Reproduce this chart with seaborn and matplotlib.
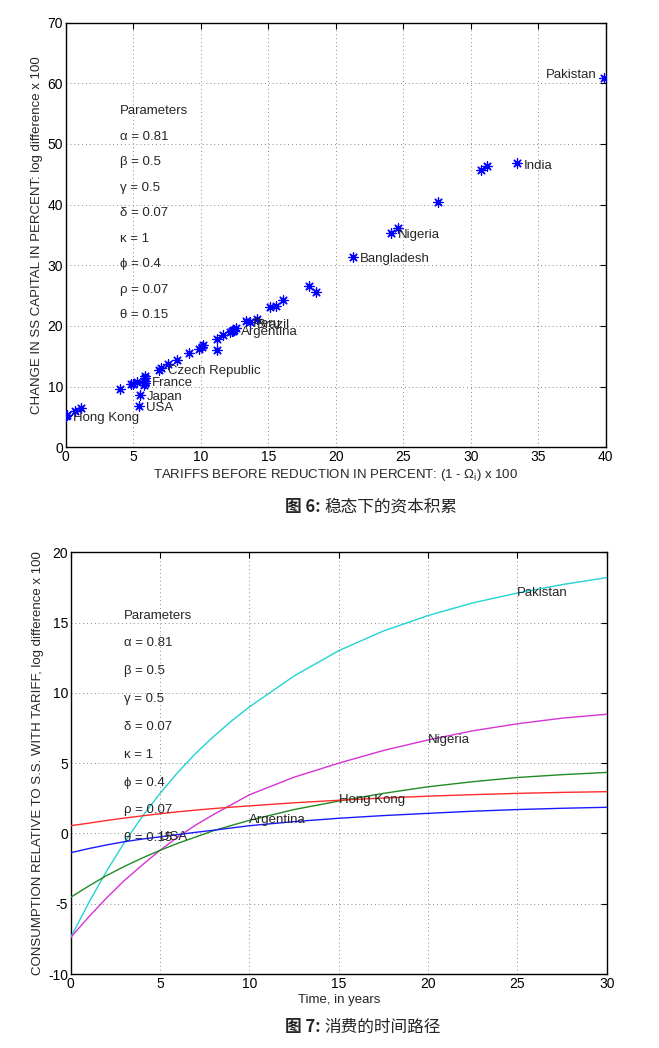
import numpy as np
import pandas as pd
import matplotlib
matplotlib.use('Agg')
import matplotlib.pyplot as plt
import seaborn as sns

# ---- Figure 6 data: tariffs vs change in steady state capital ----
tariff = [0.02, 0.12, 0.69, 1.13, 4.01, 4.8, 5.0, 5.3,
          5.86, 5.9, 5.86, 5.9, 5.82, 5.49, 5.42,
          6.9, 7.05, 7.6, 8.28, 9.15, 9.86, 10.1, 10.2, 11.2, 11.2, 11.67,
          12.16, 12.3, 12.47, 12.6, 12.4,
          13.33, 13.65, 14.2, 15.13, 15.58, 16.07, 18.0, 18.56,
          21.3, 24.07, 24.59, 27.6, 30.76, 31.18, 33.45, 39.9]
capital = [5.2, 5.3, 5.9, 6.5, 9.6, 10.5, 10.5, 10.8,
           11.7, 11.4, 11.0, 10.6, 10.3, 8.7, 6.85,
           12.8, 13.0, 13.8, 14.4, 15.5, 16.2, 16.6, 16.8, 16.1, 17.9, 18.5,
           19.0, 19.2, 19.4, 19.6, 19.1,
           20.8, 20.6, 21.1, 23.1, 23.3, 24.2, 26.6, 25.6,
           31.4, 35.4, 36.2, 40.4, 45.7, 46.4, 46.8, 60.9]

labelled = ['Hong Kong', 'USA', 'Japan', 'France', 'Czech Republic', 'Argentina',
            'Peru', 'Brazil', 'Bangladesh', 'Nigeria', 'India', 'Pakistan']
labelled_x = [0.02, 5.42, 5.49, 5.86, 7.05, 12.47, 13.33, 13.65, 21.3, 24.07, 33.45, 39.9]
labelled_y = [5.2, 6.85, 8.7, 11.0, 13.0, 19.4, 20.8, 20.6, 31.4, 35.4, 46.8, 60.9]

params = ['Parameters', 'α = 0.81', 'β = 0.5', 'γ = 0.5', 'δ = 0.07',
          'κ = 1', 'ϕ = 0.4', 'ρ = 0.07', 'θ = 0.15']

# ---- Figure 7 data: consumption paths ----
years = [0, 1, 2, 3, 4, 5, 6, 7, 8, 9, 10, 12.5, 15, 17.5, 20, 22.5, 25, 27.5, 30]
pakistan = [-7.4, -4.95, -2.7, -0.65, 1.2, 2.85, 4.35, 5.7, 6.9, 8.0, 9.0,
            11.2, 13.0, 14.4, 15.5, 16.4, 17.1, 17.7, 18.2]
nigeria = [-7.4, -5.95, -4.6, -3.35, -2.25, -1.2, -0.25, 0.6, 1.35, 2.05, 2.75,
           4.0, 5.0, 5.9, 6.65, 7.3, 7.8, 8.2, 8.48]
argentina = [-4.54, -3.75, -3.0, -2.35, -1.75, -1.2, -0.7, -0.25, 0.2, 0.57, 0.93,
             1.7, 2.3, 2.85, 3.32, 3.68, 3.98, 4.18, 4.34]
hong_kong = [0.55, 0.73, 0.92, 1.09, 1.25, 1.4, 1.54, 1.66, 1.77, 1.87, 1.96,
             2.18, 2.36, 2.52, 2.65, 2.76, 2.85, 2.92, 2.97]
usa = [-1.37, -1.08, -0.82, -0.59, -0.4, -0.24, -0.08, 0.08, 0.23, 0.39, 0.55,
       0.84, 1.08, 1.27, 1.43, 1.58, 1.7, 1.79, 1.86]

path_names = ['Pakistan', 'Nigeria', 'Argentina', 'Hong Kong', 'USA']
path_colors = ['#22d3d3', '#d633d6', '#228b22', '#ff2a2a', '#1a1aff']
path_label_t = [25, 20, 10, 15, 5]

sns.set_style("white")
plt.rcParams['font.family'] = ['Liberation Sans', 'DejaVu Sans', 'Noto Sans CJK SC']
plt.rcParams['axes.unicode_minus'] = False
plt.rcParams['mathtext.fontset'] = 'custom'
plt.rcParams['mathtext.rm'] = 'Liberation Sans'
plt.rcParams['mathtext.it'] = 'Liberation Sans:italic'


def matlab_axes(ax):
    for side in ['top', 'right', 'left', 'bottom']:
        ax.spines[side].set_visible(True)
        ax.spines[side].set_color('black')
        ax.spines[side].set_linewidth(1.0)
    ax.tick_params(direction='in', length=4, width=0.8, top=True, right=True,
                   labelsize=10, colors='black', pad=2)
    ax.grid(True, linestyle=(0, (1, 3)), color='#888888', linewidth=0.7)
    ax.set_axisbelow(True)


fig = plt.figure(figsize=(6.59, 10.48), dpi=100)

# ---------- top chart ----------
ax1 = fig.add_axes([0.0997, 0.5732, 0.8194, 0.4052])
sns.scatterplot(x=tariff, y=capital, ax=ax1, marker=(8, 2, 0), color='blue',
                s=45, linewidth=0.9, zorder=3)
ax1.set_xlim(0, 40)
ax1.set_ylim(0, 70)
ax1.set_xticks(np.arange(0, 41, 5))
ax1.set_yticks(np.arange(0, 71, 10))
matlab_axes(ax1)
for name, lx, ly in zip(labelled, labelled_x, labelled_y):
    if name == 'Pakistan':
        ax1.text(lx - 0.55, ly + 0.4, name, ha='right', va='center', fontsize=9.5)
    else:
        ax1.text(lx + 0.5, ly - 0.4, name, ha='left', va='center', fontsize=9.5)
for i, p in enumerate(params):
    ax1.text(4.0, 55.4 - i * 4.2, p, ha='left', va='center', fontsize=9.5)
ax1.set_xlabel(r'TARIFFS BEFORE REDUCTION IN PERCENT: (1 - $\Omega_{\mathrm{i}}$) x 100',
               fontsize=9.5, labelpad=2)
ax1.set_ylabel('CHANGE IN SS CAPITAL IN PERCENT: log difference x 100',
               fontsize=9.5, labelpad=3)

fig.text(0.487, 0.516, '图 6:', ha='right', va='center', fontsize=12,
         fontweight='bold', family=['Noto Sans CJK SC', 'DejaVu Sans'])
fig.text(0.493, 0.516, '稳态下的资本积累', ha='left', va='center', fontsize=12,
         family=['Noto Sans CJK SC', 'DejaVu Sans'])

# ---------- bottom chart ----------
ax2 = fig.add_axes([0.1073, 0.0706, 0.8133, 0.4024])
paths = pd.DataFrame({
    'Time': years * 5,
    'value': pakistan + nigeria + argentina + hong_kong + usa,
    'country': sum([[n] * len(years) for n in path_names], []),
})
sns.lineplot(data=paths, x='Time', y='value', hue='country',
             palette=dict(zip(path_names, path_colors)), ax=ax2,
             linewidth=1.0, legend=False, zorder=3)
ax2.set_xlim(0, 30)
ax2.set_ylim(-10, 20)
ax2.set_xticks(np.arange(0, 31, 5))
ax2.set_yticks(np.arange(-10, 21, 5))
matlab_axes(ax2)
series = dict(zip(path_names, [pakistan, nigeria, argentina, hong_kong, usa]))
for name, t in zip(path_names, path_label_t):
    yv = series[name][years.index(t)]
    ax2.text(t, yv, name, ha='left', va='center', fontsize=9.5, zorder=4)
for i, p in enumerate(params):
    ax2.text(3.0, 15.5 - i * 1.98, p, ha='left', va='center', fontsize=9.5, zorder=4)
ax2.set_xlabel('Time, in years', fontsize=9.5, labelpad=2)
ax2.set_ylabel('CONSUMPTION RELATIVE TO S.S. WITH TARIFF, log difference x 100',
               fontsize=9.5, labelpad=3)

fig.text(0.487, 0.020, '图 7:', ha='right', va='center', fontsize=12,
         fontweight='bold', family=['Noto Sans CJK SC', 'DejaVu Sans'])
fig.text(0.493, 0.020, '消费的时间路径', ha='left', va='center', fontsize=12,
         family=['Noto Sans CJK SC', 'DejaVu Sans'])

fig.savefig('out.png', dpi=100, facecolor='white')
